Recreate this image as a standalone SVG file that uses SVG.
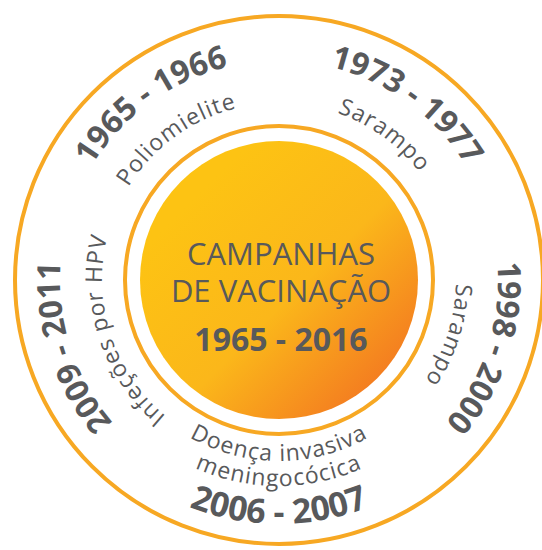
<svg xmlns="http://www.w3.org/2000/svg" xmlns:xlink="http://www.w3.org/1999/xlink" width="542" height="550" viewBox="0 0 542 550">
<style>
.ring{fill:none;stroke:#F7A823;stroke-width:4}
.yr{font-family:"Open Sans","Liberation Sans",sans-serif;font-weight:bold;font-size:32px;fill:#58595B}
.yb{font-family:"Open Sans","Liberation Sans",sans-serif;font-weight:bold;font-size:34px;fill:#58595B}
.dz{font-family:"Open Sans","Liberation Sans",sans-serif;font-size:23px;fill:#58595B;letter-spacing:1px}
.ct{font-family:"Open Sans","Liberation Sans",sans-serif;font-size:31px;fill:#58595B;text-anchor:middle}
.cb{font-family:"Open Sans","Liberation Sans",sans-serif;font-size:32px;font-weight:bold;fill:#58595B;text-anchor:middle}
</style>
<defs>
<linearGradient id="g" x1="0.2" y1="0.2" x2="0.9" y2="0.9">
<stop offset="0" stop-color="#FDC313"/>
<stop offset="0.5" stop-color="#FBB71A"/>
<stop offset="1" stop-color="#F37621"/>
</linearGradient>
<path id="aY" d="M407.73,457.17 A219,219 0 1 1 150.27,102.83 A219,219 0 1 1 407.73,457.17"/>
<path id="aD" d="M383.04,423.20 A177,177 0 1 1 174.96,136.80 A177,177 0 1 1 383.04,423.20"/>
<path id="bY" d="M150.27,457.17 A219,219 0 1 1 407.73,102.83 A219,219 0 1 1 150.27,457.17"/>
<path id="bD" d="M174.96,423.20 A177,177 0 1 1 383.04,136.80 A177,177 0 1 1 174.96,423.20"/>
<path id="cY" d="M70.71,212.33 A219,219 0 1 1 487.29,347.67 A219,219 0 1 1 70.71,212.33"/>
<path id="cD" d="M110.66,225.30 A177,177 0 1 1 447.34,334.70 A177,177 0 1 1 110.66,225.30"/>
<path id="eY" d="M487.29,212.33 A219,219 0 1 1 70.71,347.67 A219,219 0 1 1 487.29,212.33"/>
<path id="eD" d="M447.34,225.30 A177,177 0 1 1 110.66,334.70 A177,177 0 1 1 447.34,225.30"/>
<path id="d1" d="M279,99 A181,181 0 1 0 279,461 A181,181 0 1 0 279,99"/>
<path id="d2" d="M279,74 A206,206 0 1 0 279,486 A206,206 0 1 0 279,74"/>
<path id="d3" d="M279,36 A244,244 0 1 0 279,524 A244,244 0 1 0 279,36"/>
</defs>
<g id="rings">
<circle class="ring" cx="279" cy="280" r="264"/>
<circle class="ring" cx="279" cy="280" r="154"/>
</g>
<g id="center">
<circle cx="279" cy="280" r="139" fill="url(#g)"/>
<text class="ct" x="281" y="265">CAMPANHAS</text>
<text class="ct" x="281" y="302">DE VACINAÇÃO</text>
<text class="cb" x="281" y="351">1965 - 2016</text>
</g>
<g id="c1965">
<text class="yr" text-anchor="middle"><textPath xlink:href="#aY" href="#aY" startOffset="50%">1965 - 1966</textPath></text>
<text class="dz" text-anchor="middle"><textPath xlink:href="#aD" href="#aD" startOffset="50%">Poliomielite</textPath></text>
</g>
<g id="c1973">
<text class="yr" text-anchor="middle"><textPath xlink:href="#bY" href="#bY" startOffset="50%">1973 - 1977</textPath></text>
<text class="dz" text-anchor="middle"><textPath xlink:href="#bD" href="#bD" startOffset="50%">Sarampo</textPath></text>
</g>
<g id="c1998">
<text class="yr" text-anchor="middle"><textPath xlink:href="#cY" href="#cY" startOffset="50%">1998 - 2000</textPath></text>
<text class="dz" text-anchor="middle"><textPath xlink:href="#cD" href="#cD" startOffset="50%">Sarampo</textPath></text>
</g>
<g id="c2006">
<text class="dz" text-anchor="middle"><textPath xlink:href="#d1" href="#d1" startOffset="50%">Doença invasiva</textPath></text>
<text class="dz" text-anchor="middle"><textPath xlink:href="#d2" href="#d2" startOffset="50%">meningocócica</textPath></text>
<text class="yb" text-anchor="middle"><textPath xlink:href="#d3" href="#d3" startOffset="50%">2006 - 2007</textPath></text>
</g>
<g id="c2009">
<text class="yr" text-anchor="middle"><textPath xlink:href="#eY" href="#eY" startOffset="50%">2009 - 2011</textPath></text>
<text class="dz" text-anchor="middle"><textPath xlink:href="#eD" href="#eD" startOffset="50%">Infeções por HPV</textPath></text>
</g>
<g id="connectors"/>
</svg>
